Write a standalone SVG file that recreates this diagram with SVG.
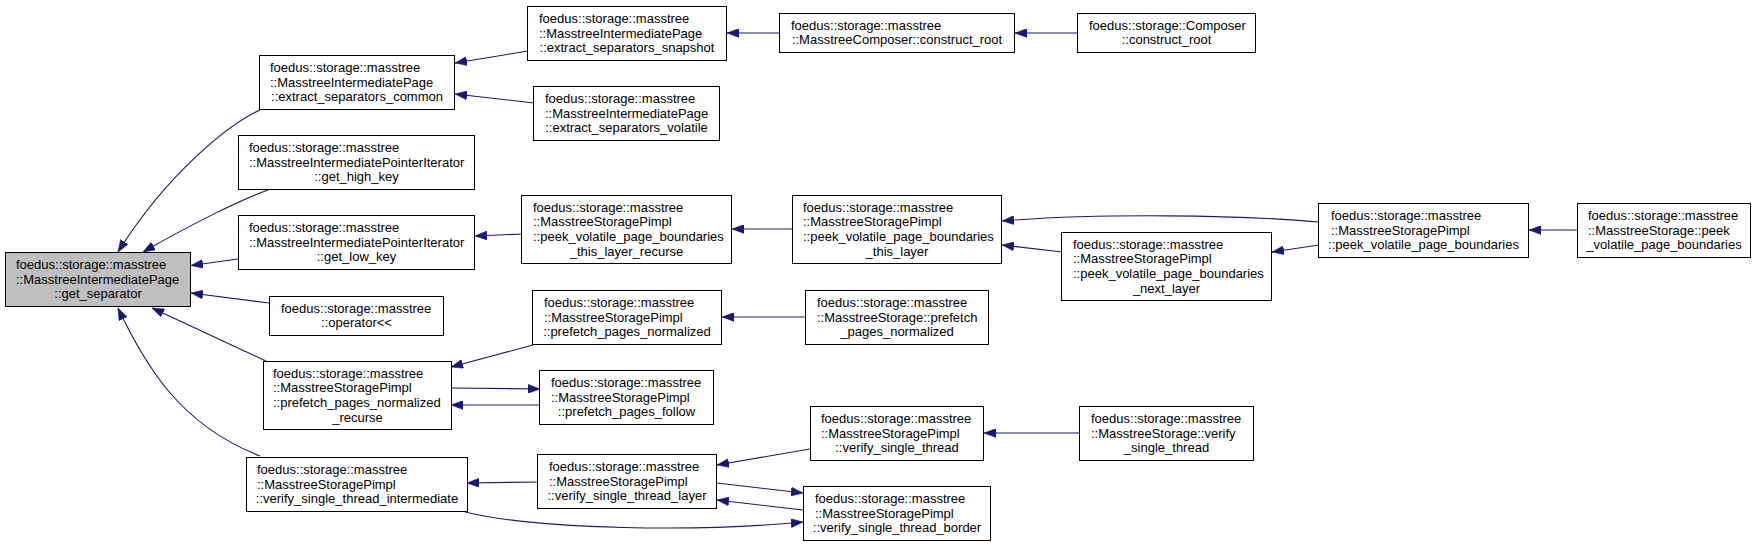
<svg xmlns="http://www.w3.org/2000/svg" width="1756" height="547" viewBox="0 0 1756 547">
<style>
.n rect{fill:#fff;stroke:#000;stroke-width:1}
.n.main rect{fill:#bfbfbf}
.n text{font-family:"Liberation Sans",Arial,sans-serif;font-size:13px;fill:#000}
.n text.c{text-anchor:middle}
#edges path{fill:none;stroke:#191970;stroke-width:1.1;marker-end:url(#ah)}
</style>
<defs>
<marker id="ah" markerUnits="userSpaceOnUse" markerWidth="12" markerHeight="9" refX="12" refY="4.5" orient="auto">
<path d="M0,0 L12,4.5 L0,9 z" fill="#191970" stroke="#191970" stroke-width="0.5"/>
</marker>
</defs>
<rect width="1756" height="547" fill="#fff"/>
<g id="edges">
<path d="M260,110 C231,123 168,172 118,252"/>
<path d="M268,190 C240,200 190,225 143,252"/>
<path d="M238,259 L191,265.5"/>
<path d="M269,303 L191,293"/>
<path d="M266,361 L152,308"/>
<path d="M260,456 C180,425 145,365 118,308"/>
<path d="M528,51 L455,63"/>
<path d="M534,103 L455,94"/>
<path d="M780,33 L727,33"/>
<path d="M1077,33 L1015,33"/>
<path d="M522,234 L475,236"/>
<path d="M792,229 L732,229"/>
<path d="M1319,222 C1240,215 1100,213 1002,221"/>
<path d="M1062,252 L1002,245"/>
<path d="M1319,245 L1272,252"/>
<path d="M1577,230 L1529,230"/>
<path d="M533,345 L451,367"/>
<path d="M806,317 L722,317"/>
<path d="M451,388 L540,389"/>
<path d="M540,405 L451,405"/>
<path d="M538,482 L467,483"/>
<path d="M810,449 L717,465"/>
<path d="M717,483 L803,493"/>
<path d="M803,510 L717,500"/>
<path d="M465,512 C540,530 700,532 803,522"/>
<path d="M1080,433 L984,433"/>
</g>
<g id="n_get_separator" class="n main">
<rect x="5.5" y="252.5" width="185" height="54"/>
<text x="16" y="268.9">foedus::storage::masstree</text>
<text x="16" y="283.5">::MasstreeIntermediatePage</text>
<text class="c" x="98" y="298.1">::get_separator</text>
</g>
<g id="n_extract_common" class="n">
<rect x="259.5" y="55.5" width="195" height="54"/>
<text x="270" y="71.9">foedus::storage::masstree</text>
<text x="270" y="86.5">::MasstreeIntermediatePage</text>
<text class="c" x="357" y="101.1">::extract_separators_common</text>
</g>
<g id="n_get_high_key" class="n">
<rect x="238.5" y="135.5" width="236" height="54"/>
<text x="249" y="151.9">foedus::storage::masstree</text>
<text x="249" y="166.5">::MasstreeIntermediatePointerIterator</text>
<text class="c" x="356.5" y="181.1">::get_high_key</text>
</g>
<g id="n_get_low_key" class="n">
<rect x="238.5" y="215.5" width="236" height="54"/>
<text x="249" y="231.9">foedus::storage::masstree</text>
<text x="249" y="246.5">::MasstreeIntermediatePointerIterator</text>
<text class="c" x="356.5" y="261.1">::get_low_key</text>
</g>
<g id="n_operator" class="n">
<rect x="269.5" y="296.5" width="174" height="39"/>
<text x="281" y="312.7">foedus::storage::masstree</text>
<text class="c" x="356.5" y="327.3">::operator&lt;&lt;</text>
</g>
<g id="n_prefetch_recurse" class="n">
<rect x="263.5" y="361.5" width="188" height="68"/>
<text x="273" y="377.5">foedus::storage::masstree</text>
<text x="273" y="392.2">::MasstreeStoragePimpl</text>
<text x="273" y="406.8">::prefetch_pages_normalized</text>
<text class="c" x="357.5" y="421.5">_recurse</text>
</g>
<g id="n_verify_intermediate" class="n">
<rect x="246.5" y="457.5" width="221" height="54"/>
<text x="257" y="473.9">foedus::storage::masstree</text>
<text x="257" y="488.5">::MasstreeStoragePimpl</text>
<text class="c" x="357" y="503.1">::verify_single_thread_intermediate</text>
</g>
<g id="n_extract_snapshot" class="n">
<rect x="527.5" y="6.5" width="199" height="54"/>
<text x="539" y="22.9">foedus::storage::masstree</text>
<text x="539" y="37.5">::MasstreeIntermediatePage</text>
<text class="c" x="627" y="52.1">::extract_separators_snapshot</text>
</g>
<g id="n_extract_volatile" class="n">
<rect x="533.5" y="86.5" width="186" height="54"/>
<text x="545" y="102.9">foedus::storage::masstree</text>
<text x="545" y="117.5">::MasstreeIntermediatePage</text>
<text class="c" x="626.5" y="132.1">::extract_separators_volatile</text>
</g>
<g id="n_mcomposer_construct_root" class="n">
<rect x="779.5" y="13.5" width="235" height="39"/>
<text x="791" y="29.7">foedus::storage::masstree</text>
<text class="c" x="897" y="44.3">::MasstreeComposer::construct_root</text>
</g>
<g id="n_composer_construct_root" class="n">
<rect x="1077.5" y="13.5" width="178" height="39"/>
<text x="1089" y="29.7">foedus::storage::Composer</text>
<text class="c" x="1166.5" y="44.3">::construct_root</text>
</g>
<g id="n_peek_this_layer_recurse" class="n">
<rect x="521.5" y="195.5" width="210" height="68"/>
<text x="533" y="211.5">foedus::storage::masstree</text>
<text x="533" y="226.2">::MasstreeStoragePimpl</text>
<text x="533" y="240.8">::peek_volatile_page_boundaries</text>
<text class="c" x="626.5" y="255.5">_this_layer_recurse</text>
</g>
<g id="n_peek_this_layer" class="n">
<rect x="792.5" y="195.5" width="209" height="68"/>
<text x="803" y="211.5">foedus::storage::masstree</text>
<text x="803" y="226.2">::MasstreeStoragePimpl</text>
<text x="803" y="240.8">::peek_volatile_page_boundaries</text>
<text class="c" x="897" y="255.5">_this_layer</text>
</g>
<g id="n_peek_next_layer" class="n">
<rect x="1061.5" y="232.5" width="210" height="68"/>
<text x="1073" y="248.5">foedus::storage::masstree</text>
<text x="1073" y="263.2">::MasstreeStoragePimpl</text>
<text x="1073" y="277.8">::peek_volatile_page_boundaries</text>
<text class="c" x="1166.5" y="292.5">_next_layer</text>
</g>
<g id="n_pimpl_peek" class="n">
<rect x="1318.5" y="203.5" width="210" height="54"/>
<text x="1331" y="219.9">foedus::storage::masstree</text>
<text x="1331" y="234.5">::MasstreeStoragePimpl</text>
<text class="c" x="1423.5" y="249.1">::peek_volatile_page_boundaries</text>
</g>
<g id="n_storage_peek" class="n">
<rect x="1577.5" y="203.5" width="173" height="54"/>
<text x="1588" y="219.9">foedus::storage::masstree</text>
<text x="1588" y="234.5">::MasstreeStorage::peek</text>
<text class="c" x="1664" y="249.1">_volatile_page_boundaries</text>
</g>
<g id="n_prefetch_normalized" class="n">
<rect x="532.5" y="290.5" width="189" height="54"/>
<text x="544" y="306.9">foedus::storage::masstree</text>
<text x="544" y="321.5">::MasstreeStoragePimpl</text>
<text class="c" x="627" y="336.1">::prefetch_pages_normalized</text>
</g>
<g id="n_storage_prefetch" class="n">
<rect x="805.5" y="290.5" width="183" height="54"/>
<text x="817" y="306.9">foedus::storage::masstree</text>
<text x="817" y="321.5">::MasstreeStorage::prefetch</text>
<text class="c" x="897" y="336.1">_pages_normalized</text>
</g>
<g id="n_prefetch_follow" class="n">
<rect x="539.5" y="370.5" width="174" height="54"/>
<text x="551" y="386.9">foedus::storage::masstree</text>
<text x="551" y="401.5">::MasstreeStoragePimpl</text>
<text class="c" x="626.5" y="416.1">::prefetch_pages_follow</text>
</g>
<g id="n_pimpl_verify" class="n">
<rect x="810.5" y="406.5" width="173" height="54"/>
<text x="821" y="422.9">foedus::storage::masstree</text>
<text x="821" y="437.5">::MasstreeStoragePimpl</text>
<text class="c" x="897" y="452.1">::verify_single_thread</text>
</g>
<g id="n_verify_layer" class="n">
<rect x="537.5" y="454.5" width="179" height="54"/>
<text x="549" y="470.9">foedus::storage::masstree</text>
<text x="549" y="485.5">::MasstreeStoragePimpl</text>
<text class="c" x="627" y="500.1">::verify_single_thread_layer</text>
</g>
<g id="n_verify_border" class="n">
<rect x="803.5" y="486.5" width="187" height="54"/>
<text x="815" y="502.9">foedus::storage::masstree</text>
<text x="815" y="517.5">::MasstreeStoragePimpl</text>
<text class="c" x="897" y="532.1">::verify_single_thread_border</text>
</g>
<g id="n_storage_verify" class="n">
<rect x="1079.5" y="406.5" width="174" height="54"/>
<text x="1091" y="422.9">foedus::storage::masstree</text>
<text x="1091" y="437.5">::MasstreeStorage::verify</text>
<text class="c" x="1166.5" y="452.1">_single_thread</text>
</g>
</svg>
